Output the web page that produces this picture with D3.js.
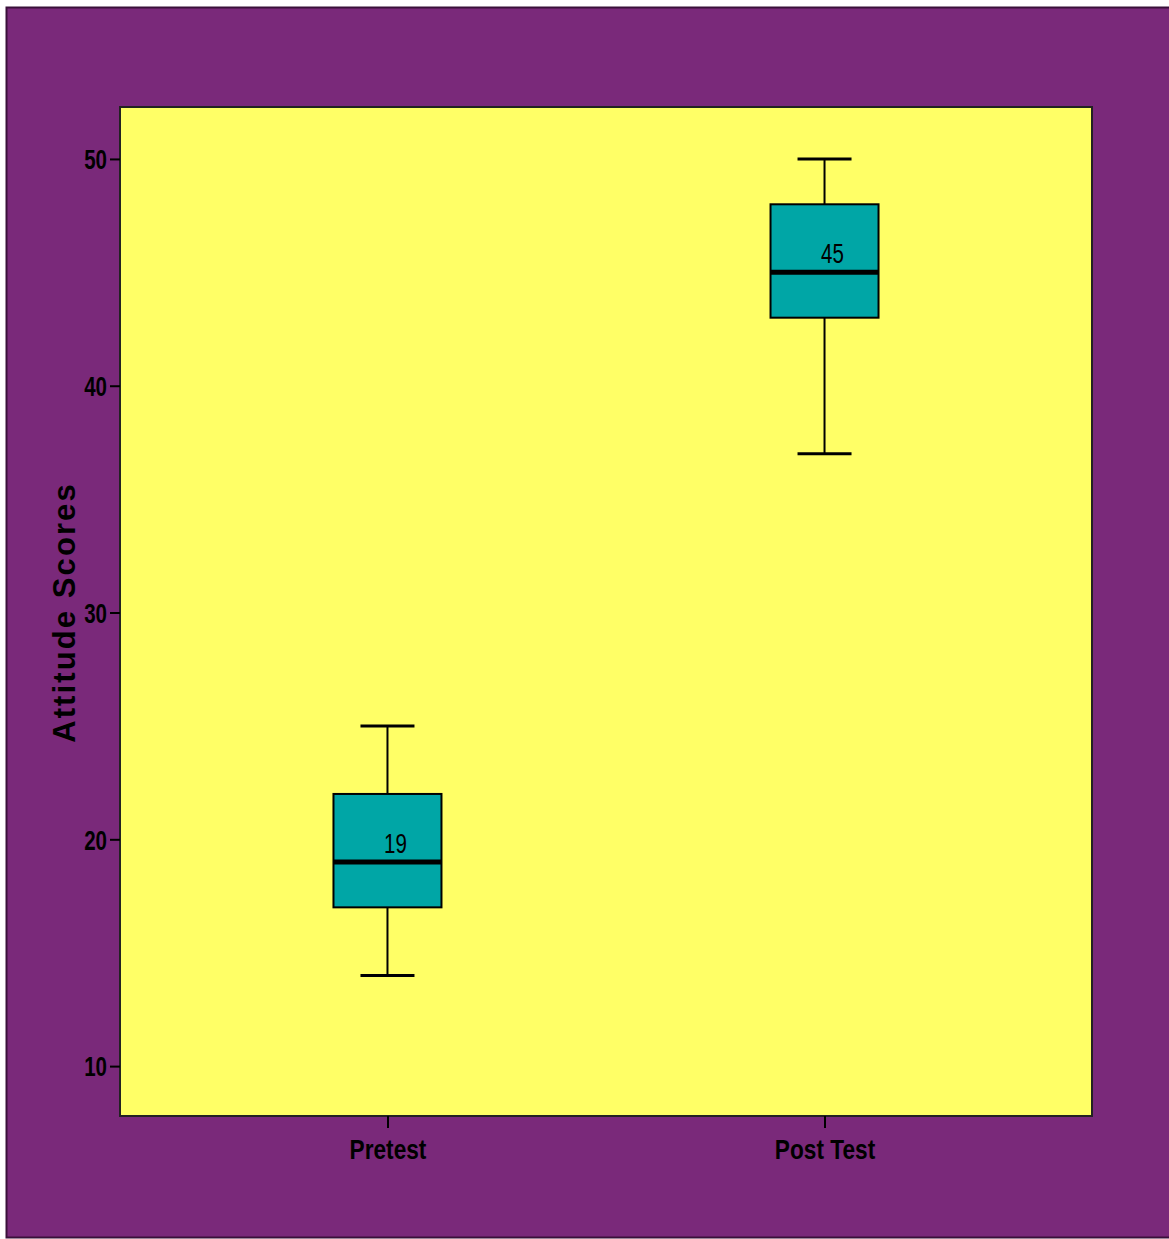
<!DOCTYPE html>
<html><head><meta charset="utf-8">
<script src="https://cdn.jsdelivr.net/npm/d3@7"></script>
<style>html,body{margin:0;padding:0;background:#fff;}</style>
</head><body>
<script>
const categories = ["Pretest", "Post Test"];
const mins = [14, 37];
const q1s = [17, 43];
const medians = [19, 45];
const q3s = [22, 48];
const maxs = [25, 50];
const yTicks = [10, 20, 30, 40, 50];
const yLabel = "Attitude Scores";

const W = 1169, H = 1239;
const plot = {x0: 120, x1: 1092, y0: 107, y1: 1116};
const svg = d3.select("body").append("svg").attr("width", W).attr("height", H);

svg.append("rect").attr("x", 6.5).attr("y", 7.5).attr("width", W).attr("height", 1230)
  .attr("fill", "#7A297A").attr("stroke", "#3a103a").attr("stroke-width", 2);

const y = d3.scaleLinear().domain([7.8, 52.29]).range([plot.y1, plot.y0]);
const x = d3.scalePoint().domain(categories).range([plot.x0, plot.x1]).padding(0.612);

svg.append("rect").attr("x", plot.x0).attr("y", plot.y0)
  .attr("width", plot.x1 - plot.x0).attr("height", plot.y1 - plot.y0)
  .attr("fill", "#FFFF66").attr("stroke", "#222").attr("stroke-width", 2);

const font = "'Liberation Sans',Arial,sans-serif";
const sx = 0.76, sxCat = 0.84;

function narrow(sel) {
  sel.each(function() {
    const t = d3.select(this);
    const xv = +t.attr("x") || 0;
    t.attr("x", xv / sx).attr("transform", `scale(${sx},1)`);
  });
}

const yAxis = svg.append("g").attr("transform", `translate(${plot.x0},0)`)
  .call(d3.axisLeft(y).tickValues(yTicks).tickSize(10).tickPadding(3));
yAxis.select(".domain").remove();
yAxis.selectAll("line").attr("stroke", "#000").attr("stroke-width", 2);
yAxis.selectAll("text").attr("font-family", font).attr("font-weight", "bold")
  .attr("font-size", 27).attr("fill", "#000").attr("dy", "0.36em").call(narrow);

const xAxis = svg.append("g").attr("transform", `translate(0,${plot.y1})`)
  .call(d3.axisBottom(x).tickSize(12).tickPadding(12));
xAxis.select(".domain").remove();
xAxis.selectAll("line").attr("stroke", "#000").attr("stroke-width", 2);
xAxis.selectAll("text").attr("font-family", font).attr("font-weight", "bold")
  .attr("font-size", 27).attr("fill", "#000").attr("x", 0)
  .attr("transform", `scale(${sxCat},1)`);

svg.append("text").attr("transform", `translate(75,${(plot.y0+plot.y1)/2+1}) rotate(-90)`)
  .attr("text-anchor", "middle").attr("font-family", font)
  .attr("font-weight", "bold").attr("font-size", 31).attr("letter-spacing", 2.1)
  .attr("fill", "#000").text(yLabel);

const boxW = 108, capW = 54;
categories.forEach((c, i) => {
  const cx = x(c);
  const g = svg.append("g");
  g.append("line").attr("x1", cx).attr("x2", cx).attr("y1", y(maxs[i])).attr("y2", y(q3s[i]))
    .attr("stroke", "#000").attr("stroke-width", 2);
  g.append("line").attr("x1", cx).attr("x2", cx).attr("y1", y(q1s[i])).attr("y2", y(mins[i]))
    .attr("stroke", "#000").attr("stroke-width", 2);
  [maxs[i], mins[i]].forEach(v => {
    g.append("line").attr("x1", cx - capW/2).attr("x2", cx + capW/2).attr("y1", y(v)).attr("y2", y(v))
      .attr("stroke", "#000").attr("stroke-width", 3);
  });
  g.append("rect").attr("x", cx - boxW/2).attr("y", y(q3s[i]))
    .attr("width", boxW).attr("height", y(q1s[i]) - y(q3s[i]))
    .attr("fill", "#00A6A6").attr("stroke", "#000").attr("stroke-width", 2);
  g.append("line").attr("x1", cx - boxW/2).attr("x2", cx + boxW/2).attr("y1", y(medians[i])).attr("y2", y(medians[i]))
    .attr("stroke", "#000").attr("stroke-width", 5);
  g.append("text").attr("transform", `translate(${cx + 8},${y(medians[i]) - 9}) scale(${sx},1)`)
    .attr("text-anchor", "middle")
    .attr("font-family", font).attr("font-size", 27).attr("fill", "#000").text(medians[i]);
});
</script>
</body></html>
